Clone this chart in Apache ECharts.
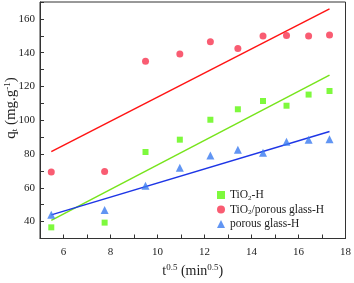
<!DOCTYPE html>
<html>
<head>
<meta charset="utf-8">
<script src="https://cdn.jsdelivr.net/npm/echarts@6/dist/echarts.min.js"></script>
<style>html,body{margin:0;padding:0;background:#fff;}#c{width:354px;height:283px;}</style>
</head>
<body>
<div id="c"></div>
<script>
// t^0.5 values (min^0.5)
var tSqrt = [5.48, 7.75, 9.49, 10.95, 12.25, 13.42, 14.49, 15.49, 16.43, 17.32];
var tio2H = [36.6, 39.4, 81.2, 88.5, 100.3, 106.5, 111.4, 108.6, 115.2, 117.3];
var tio2GlassH = [69.3, 69.7, 134.9, 139.2, 146.4, 142.4, 149.8, 150.2, 149.8, 150.5];
var glassH = [44.1, 46.8, 61.2, 71.9, 79.1, 82.5, 80.8, 87.2, 88.4, 88.8];
// fitted line endpoints
var fitX = [5.48, 17.32];
var fitTio2H = [40.7, 126.7];
var fitTio2GlassH = [81.4, 165.9];
var fitGlassH = [44.0, 93.3];
var seriesNames = ['TiO2-H', 'TiO2/porous glass-H', 'porous glass-H'];
var xTicks = [6, 8, 10, 12, 14, 16, 18];
var yTicks = [40, 60, 80, 100, 120, 140, 160];

function pairs(xs, ys) { return xs.map(function (x, i) { return [x, ys[i]]; }); }

var FONT = '"Liberation Serif", "Times New Roman", serif';
var chart = echarts.init(document.getElementById('c'), null, {renderer: 'canvas'});
var legendFmt = {
  'TiO2-H': '{n|TiO}{s|2}{n|-H}',
  'TiO2/porous glass-H': '{n|TiO}{s|2}{n|/porous glass-H}',
  'porous glass-H': '{n|porous glass-H}'
};
chart.setOption({
  animation: false,
  backgroundColor: '#fff',
  grid: {left: 40, right: 7, top: 2, bottom: 34, show: true, borderColor: '#333', borderWidth: 1, backgroundColor: 'transparent'},
  graphic: [{
    type: 'text', x: 11, y: 108, rotation: Math.PI / 2,
    style: {
      text: '{n|q}{b|t}{n| (mg.g}{p|-1}{n|)}',
      align: 'center', verticalAlign: 'middle',
      rich: {
        n: {fontFamily: FONT, fontSize: 15, fill: '#222'},
        b: {fontFamily: FONT, fontSize: 9, fill: '#222', verticalAlign: 'bottom', padding: [6, 0, 0, 0]},
        p: {fontFamily: FONT, fontSize: 9, fill: '#222', verticalAlign: 'top', padding: [0, 0, 7, 0]}
      }
    }
  }],
  legend: {
    data: seriesNames,
    orient: 'vertical',
    left: 212, top: 184,
    itemWidth: 8, itemHeight: 8, itemGap: 2,
    formatter: function (n) { return legendFmt[n]; },
    textStyle: {
      fontFamily: FONT, fontSize: 11.5, color: '#222',
      rich: {
        n: {fontFamily: FONT, fontSize: 11.5, color: '#222', lineHeight: 13},
        s: {fontFamily: FONT, fontSize: 7, color: '#222', verticalAlign: 'bottom', padding: [5, 0, 0, 0], lineHeight: 13}
      }
    }
  },
  xAxis: {
    type: 'value', min: 5, max: 18, interval: 1,
    name: '{n|t}{p|0.5}{n| (min}{p|0.5}{n|)}',
    nameLocation: 'middle', nameGap: 25,
    nameTextStyle: {
      rich: {
        n: {fontFamily: FONT, fontSize: 14, color: '#222'},
        p: {fontFamily: FONT, fontSize: 9, color: '#222', verticalAlign: 'top', padding: [0, 0, 6, 0]}
      }
    },
    axisLine: {show: true, lineStyle: {color: '#333', width: 1}},
    axisTick: {show: true, inside: true, length: 4, lineStyle: {color: '#333'}},
    axisLabel: {
      fontFamily: FONT, fontSize: 11, color: '#222', margin: 8,
      formatter: function (v) { return xTicks.indexOf(v) >= 0 ? String(v) : ''; }
    },
    splitLine: {show: false}
  },
  yAxis: {
    type: 'value', min: 30, max: 170, interval: 10,
    axisLine: {show: true, lineStyle: {color: '#333', width: 1}},
    axisTick: {show: true, inside: true, length: 4, lineStyle: {color: '#333'}},
    axisLabel: {
      fontFamily: FONT, fontSize: 11, color: '#222', margin: 5,
      formatter: function (v) { return yTicks.indexOf(v) >= 0 ? String(v) : ''; }
    },
    splitLine: {show: false}
  },
  series: [
    {name: 'fit1', type: 'line', data: pairs(fitX, fitTio2H), symbol: 'none', lineStyle: {color: '#77e41c', width: 1.5}, z: 1, silent: true},
    {name: 'fit2', type: 'line', data: pairs(fitX, fitTio2GlassH), symbol: 'none', lineStyle: {color: '#ff1414', width: 1.5}, z: 1, silent: true},
    {name: 'fit3', type: 'line', data: pairs(fitX, fitGlassH), symbol: 'none', lineStyle: {color: '#1e36e6', width: 1.5}, z: 1, silent: true},
    {name: seriesNames[0], type: 'scatter', data: pairs(tSqrt, tio2H), symbol: 'rect', symbolSize: 6, itemStyle: {color: '#5ef80c'}, z: 3},
    {name: seriesNames[1], type: 'scatter', data: pairs(tSqrt, tio2GlassH), symbol: 'circle', symbolSize: 7, itemStyle: {color: '#f7334f'}, z: 3},
    {name: seriesNames[2], type: 'scatter', data: pairs(tSqrt, glassH), symbol: 'triangle', symbolSize: 8, itemStyle: {color: '#3a7af0'}, z: 3}
  ]
});
</script>
</body>
</html>
